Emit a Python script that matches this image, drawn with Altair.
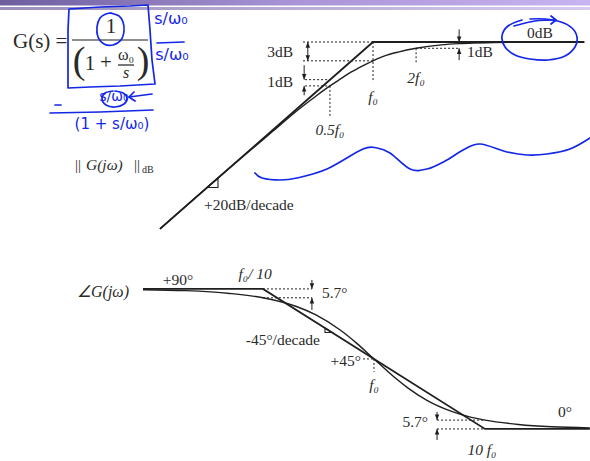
import altair as alt
import pandas as pd

W, H = 590, 461
INK = "#1f1f1f"
TXT = "#2a2a2a"
PEN = "#1426e6"
SERIF = "Liberation Serif"
HAND = "DejaVu Sans"

# Scale windows: frequency as f/f0 on log axes, dB and degrees linear
MAG_F = [10 ** -2.608, 10 ** 1.517]
MAG_DB = [-66.8, 6.7]
PH_F = [10 ** -3.369, 10 ** 1.946]
PH_DEG = [-20.6, 275.7]

# ---------------- magnitude ----------------
mag_asym_f = [0.0324, 1.0, 30.0]
mag_asym_db = [-29.8, 0.0, 0.0]

mag_f = [0.0324, 0.05, 0.1, 0.15, 0.2, 0.3, 0.4, 0.5, 0.6, 0.7, 0.8, 1.0,
         1.25, 1.5, 2.0, 3.0, 4.0, 5.0, 7.0, 10.0, 20.0, 30.0]
mag_db = [-29.8, -26.0, -20.0, -16.6, -14.2, -10.8, -8.6, -7.0, -5.8, -4.8, -4.1, -3.0,
          -2.1, -1.6, -1.0, -0.46, -0.26, -0.17, -0.09, -0.04, -0.01, 0.0]

# dotted construction lines
mag_guide_f = [0.324, 0.324, 0.335, 0.335, 1.0, 0.5, 2.0, 2.0]
mag_guide_f2 = [1.0, 1.0, 0.5, 0.5, 1.0, 0.5, 2.0, 4.0]
mag_guide_db = [0.0, -3.0, -6.0, -7.0, 0.0, -7.0, -1.0, -1.0]
mag_guide_db2 = [0.0, -3.0, -6.0, -7.0, -6.4, -12.0, -3.4, -1.0]

# dimension arrows
mag_stem_f = [0.35, 0.33, 0.33, 4.0, 4.0]
mag_stem_db = [0.0, -3.7, -7.0, 2.0, -1.0]
mag_stem_db2 = [-3.0, -6.0, -8.5, 0.0, -2.9]
mag_up_f, mag_up_db = [0.35, 0.33, 4.0], [0.0, -7.0, -1.0]
mag_dn_f, mag_dn_db = [0.35, 0.33, 4.0], [-3.0, -6.0, 0.0]

# slope marker
mag_tri_f = [0.069, 0.0824, 0.0824, 0.069]
mag_tri_db = [-23.2, -21.7, -23.2, -23.2]

# ---------------- phase ----------------
ph_asym_f = [0.0083, 0.1, 10.0, 88.0]
ph_asym_deg = [90.0, 90.0, 0.0, 0.0]

ph_f = [0.0083, 0.02, 0.05, 0.1, 0.2, 0.3, 0.5, 0.7, 1.0, 1.5, 2.0, 3.0,
        5.0, 7.0, 10.0, 20.0, 40.0, 88.0]
ph_deg = [89.5, 88.9, 87.1, 84.3, 78.7, 73.3, 63.4, 55.0, 45.0, 33.7, 26.6, 18.4,
          11.3, 8.1, 5.7, 2.9, 1.4, 0.7]

ph_guide_f = [0.1, 0.1, 0.796, 1.0, 3.70, 3.70]
ph_guide_f2 = [0.276, 0.276, 1.0, 1.0, 10.0, 10.0]
ph_guide_deg = [90.0, 84.3, 45.0, 45.0, 5.7, 0.0]
ph_guide_deg2 = [90.0, 84.3, 45.0, 36.7, 5.7, 0.0]

ph_stem_f = [0.276, 0.276, 3.70, 3.70]
ph_stem_deg = [95.8, 84.3, 10.9, 0.0]
ph_stem_deg2 = [90.0, 76.5, 5.7, -7.1]
ph_up_f, ph_up_deg = [0.276, 3.70], [84.3, 0.0]
ph_dn_f, ph_dn_deg = [0.276, 3.70], [90.0, 5.7]

ph_tri_f = [0.362, 0.362, 0.418, 0.362]
ph_tri_deg = [64.9, 62.0, 62.0, 64.9]

# ---------------- pen annotations (page px) ----------------
pen_smooth = {
    "wave": ([255, 262, 280, 297, 327, 363, 377, 390, 410, 427, 447, 463, 480, 507, 527, 547, 570, 590],
             [173, 178, 180, 178, 169, 149, 148, 153, 169, 169, 160, 150, 144, 152, 155, 154, 149, 138]),
    "ring1": ([110, 119, 123, 124, 121, 113, 104, 98, 97, 100, 106, 112],
              [13, 16, 22, 31, 40, 45, 44, 37, 27, 18, 14, 13]),
    "ringw": ([115, 123, 127, 124, 115, 106, 102, 105, 113],
              [91, 93, 98, 104, 107, 105, 99, 93, 91]),
    "ring0": ([522, 508, 502, 505, 515, 530, 548, 565, 575, 577, 572, 561, 545, 530],
              [20, 26, 36, 47, 55, 59, 60, 56, 47, 37, 28, 22, 19, 19]),
    "tail": ([514, 535, 556], [26, 21, 20]),
}
pen_straight = {
    "box": ([69, 100, 130, 148, 150, 152, 155, 120, 90, 68, 68, 68, 69],
            [9, 7, 6, 5, 30, 60, 84, 86, 87, 88, 60, 30, 9]),
    "tailhead": ([551, 556, 551], [16, 20, 24]),
    "arrow": ([152, 129], [94, 97]),
    "arrowhead": ([134, 129, 135], [92, 97, 101]),
    "bar_low": ([50, 100, 153], [113, 112, 110]),
    "minus": ([55, 61], [105, 105]),
    "bar_top": ([157, 184], [43, 42]),
}
pen_text = ["s/ω₀", "s/ω₀", "s/ω₀", "(1 + s/ω₀)"]
pen_text_x = [171, 172, 114, 112]
pen_text_y = [19, 55, 97, 124]
pen_text_size = [16, 16, 14, 15]


# ---------------- encodings ----------------
def fx(dom, field):
    return alt.X(f"{field}:Q", scale=alt.Scale(type="log", domain=dom, nice=False), axis=None)


def vy(dom, field):
    return alt.Y(f"{field}:Q", scale=alt.Scale(domain=dom, nice=False, zero=False), axis=None)


def px(field):
    return alt.X(f"{field}:Q", scale=alt.Scale(domain=[0, W], nice=False, zero=False), axis=None)


def py(field):
    return alt.Y(f"{field}:Q", scale=alt.Scale(domain=[0, H], nice=False, zero=False, reverse=True), axis=None)


def mag_xy(fa="f", ya="db"):
    return dict(x=fx(MAG_F, fa), y=vy(MAG_DB, ya))


def ph_xy(fa="f", ya="deg"):
    return dict(x=fx(PH_F, fa), y=vy(PH_DEG, ya))


def page_xy(xa="x", ya="y"):
    return dict(x=px(xa), y=py(ya))


UP_HEAD = "M0,0L-0.6,1.5L0.6,1.5Z"
DN_HEAD = "M0,0L-0.6,-1.5L0.6,-1.5Z"


def line_layer(fs, vs, enc, vname, **kw):
    df = pd.DataFrame({"f": fs, vname: vs, "i": list(range(len(fs)))})
    return alt.Chart(df).mark_line(color=INK, **kw).encode(order="i:Q", **enc)


def rule_layer(f1, f2, v1, v2, encf, dash=None, width=1.0):
    df = pd.DataFrame({"f": f1, "f2": f2, "v": v1, "v2": v2})
    kw = dict(color=INK, strokeWidth=width)
    if dash:
        kw["strokeDash"] = dash
    return alt.Chart(df).mark_rule(**kw).encode(x2="f2:Q", y2="v2:Q", **encf("f", "v"))


def head_layer(fs, vs, shape, encf):
    df = pd.DataFrame({"f": fs, "v": vs})
    return alt.Chart(df).mark_point(shape=shape, filled=True, size=56, color=INK,
                                    opacity=1, strokeWidth=0).encode(**encf("f", "v"))


def text_layer(texts, xs, ys, encf, **kw):
    df = pd.DataFrame({"t": texts, "a": xs, "b": ys})
    style = dict(font=SERIF, fontSize=15.5, color=TXT, baseline="middle")
    style.update(kw)
    return alt.Chart(df).mark_text(**style).encode(text="t:N", **encf("a", "b"))


def pen_layer(strokes, interp):
    rows = []
    for sid, (xs, ys) in strokes.items():
        for i, (x, y) in enumerate(zip(xs, ys)):
            rows.append({"s": sid, "i": i, "x": x, "y": y})
    return alt.Chart(pd.DataFrame(rows)).mark_line(
        color=PEN, strokeWidth=1.7, interpolate=interp, strokeCap="round", strokeJoin="round"
    ).encode(detail="s:N", order="i:Q", **page_xy())


layers = []

# slide header band
band = pd.DataFrame({"x": [0, 0], "x2": [W, W], "y": [0, 7], "y2": [5.5, 10]})
layers.append(
    alt.Chart(band.iloc[[0]]).mark_rect(
        fill=alt.LinearGradient(gradient="linear", x1=0, x2=1, y1=0, y2=0, stops=[
            alt.GradientStop(color="#6e5e9e", offset=0),
            alt.GradientStop(color="#a894d6", offset=0.5),
            alt.GradientStop(color="#c8b4f0", offset=1)])
    ).encode(x2="x2:Q", y2="y2:Q", **page_xy())
)
layers.append(
    alt.Chart(band.iloc[[1]]).mark_rect(
        fill=alt.LinearGradient(gradient="linear", x1=0, x2=1, y1=0, y2=0, stops=[
            alt.GradientStop(color="#9a8fb8", offset=0),
            alt.GradientStop(color="#d6cbef", offset=1)])
    ).encode(x2="x2:Q", y2="y2:Q", **page_xy())
)

# construction lines
layers.append(rule_layer(mag_guide_f, mag_guide_f2, mag_guide_db, mag_guide_db2, mag_xy, dash=[2, 2]))
layers.append(rule_layer(ph_guide_f, ph_guide_f2, ph_guide_deg, ph_guide_deg2, ph_xy, dash=[2, 2]))

# dimension arrows
layers.append(rule_layer(mag_stem_f, mag_stem_f, mag_stem_db, mag_stem_db2, mag_xy))
layers.append(head_layer(mag_up_f, mag_up_db, UP_HEAD, mag_xy))
layers.append(head_layer(mag_dn_f, mag_dn_db, DN_HEAD, mag_xy))
layers.append(rule_layer(ph_stem_f, ph_stem_f, ph_stem_deg, ph_stem_deg2, ph_xy))
layers.append(head_layer(ph_up_f, ph_up_deg, UP_HEAD, ph_xy))
layers.append(head_layer(ph_dn_f, ph_dn_deg, DN_HEAD, ph_xy))

# asymptotes and exact responses
layers.append(line_layer(mag_asym_f, mag_asym_db, mag_xy(), "db", strokeWidth=1.8))
layers.append(line_layer(mag_f, mag_db, mag_xy(), "db", strokeWidth=1.4, interpolate="monotone"))
layers.append(line_layer(mag_tri_f, mag_tri_db, mag_xy(), "db", strokeWidth=1.1))
layers.append(line_layer(ph_asym_f, ph_asym_deg, ph_xy(), "deg", strokeWidth=1.8))
layers.append(line_layer(ph_f, ph_deg, ph_xy(), "deg", strokeWidth=1.4, interpolate="monotone"))
layers.append(line_layer(ph_tri_f, ph_tri_deg, ph_xy(), "deg", strokeWidth=1.1))

# magnitude labels
layers.append(text_layer(["3dB", "1dB"], [0.276, 0.276], [-1.6, -6.4], mag_xy, align="right"))
layers.append(text_layer(["1dB", "+20dB/decade"], [4.54, 0.0658], [-1.6, -26.0], mag_xy, align="left"))
layers.append(text_layer(["0dB"], [14.7], [1.4], mag_xy, align="center"))
layers.append(text_layer(["f₀", "0.5f₀", "2f₀"], [1.0, 0.5, 2.0], [-8.8, -14.0, -5.7], mag_xy,
                         align="center", fontStyle="italic"))

# phase labels
layers.append(text_layer(["+90°", "0°"], [0.01715, 52.6], [95.8, 11.0], ph_xy, align="center"))
layers.append(text_layer(["5.7°"], [0.34], [87.4], ph_xy, align="left"))
layers.append(text_layer(["-45°/decade", "+45°", "5.7°"], [0.326, 0.763, 3.07], [57.2, 43.7, 4.5],
                         ph_xy, align="right"))
layers.append(text_layer(["f₀/ 10", "f₀", "10 f₀"], [0.085, 1.0, 9.39], [99.5, 28.3, -13.5], ph_xy,
                         align="center", fontStyle="italic"))

# transfer function and plot titles
layers.append(text_layer(["G(s) ="], [13], [42], page_xy, align="left", fontSize=21))
layers.append(text_layer(["1"], [111], [27], page_xy, align="center", fontSize=21))
layers.append(text_layer(["(", ")"], [79, 143], [62, 62], page_xy, align="center", fontSize=38))
layers.append(text_layer(["1", "+"], [90, 106], [64, 63], page_xy, align="center", fontSize=21))
layers.append(text_layer(["ω₀"], [126], [55], page_xy, align="center", fontSize=16))
layers.append(text_layer(["s"], [126], [73], page_xy, align="center", fontSize=16, fontStyle="italic"))
frac = pd.DataFrame({"x": [72, 118], "x2": [148, 134], "y": [40, 65]})
layers.append(alt.Chart(frac).mark_rule(color=INK, strokeWidth=1.2).encode(x2="x2:Q", **page_xy()))

layers.append(text_layer(["||", "||"], [78, 137], [165, 165], page_xy, align="center", fontSize=15))
layers.append(text_layer(["G(jω)"], [86], [165], page_xy, align="left", fontSize=15.5, fontStyle="italic"))
layers.append(text_layer(["dB"], [142], [170], page_xy, align="left", fontSize=10))
layers.append(text_layer(["∠G(jω)"], [77], [292], page_xy, align="left", fontSize=16, fontStyle="italic"))

# pen annotations
layers.append(pen_layer(pen_smooth, "cardinal"))
layers.append(pen_layer(pen_straight, "linear"))
pen_df = pd.DataFrame({"t": pen_text, "x": pen_text_x, "y": pen_text_y, "sz": pen_text_size})
layers.append(
    alt.Chart(pen_df).mark_text(font=HAND, color=PEN, baseline="middle", align="center").encode(
        text="t:N", size=alt.Size("sz:Q", scale=None, legend=None), **page_xy())
)

chart = (
    alt.layer(*layers)
    .resolve_scale(x="independent", y="independent")
    .properties(width=W, height=H, padding=0, autosize=alt.AutoSizeParams(type="none"),
                background="#ffffff")
    .configure_view(stroke=None)
)

chart.save("out.html", embed_options={"renderer": "svg", "actions": False})
